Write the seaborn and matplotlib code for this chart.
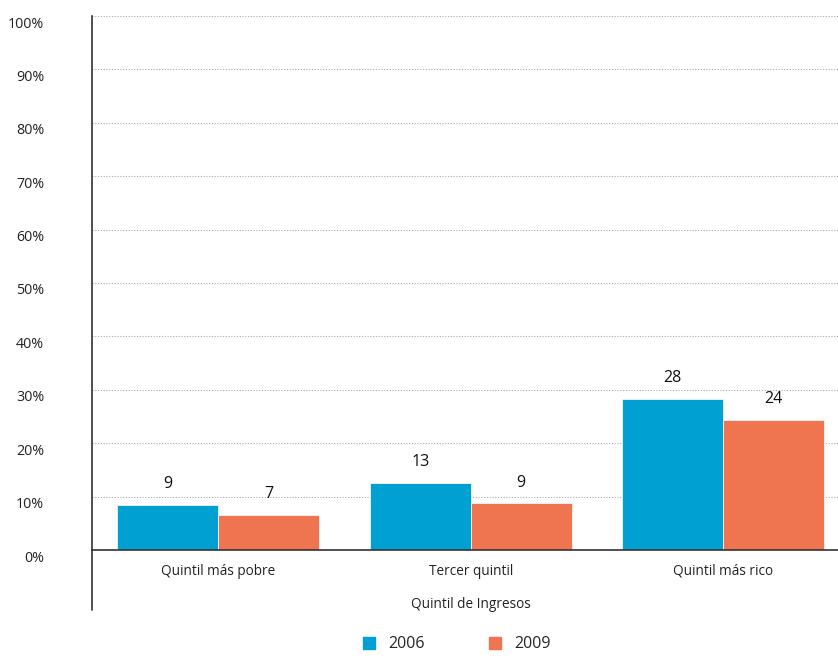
import matplotlib
matplotlib.use("Agg")
import matplotlib.pyplot as plt
import matplotlib.transforms as mtransforms
from matplotlib.lines import Line2D
import seaborn as sns
import pandas as pd

categories = ["Quintil más pobre", "Tercer quintil", "Quintil más rico"]
years = ["2006", "2009"]
values_2006 = [8.5, 12.6, 28.3]
values_2009 = [6.6, 8.8, 24.4]
labels_2006 = ["9", "13", "28"]
labels_2009 = ["7", "9", "24"]
yticks = [0, 10, 20, 30, 40, 50, 60, 70, 80, 90, 100]
ytick_labels = [f"{v}%" for v in yticks]
colors = {"2006": "#00A0D2", "2009": "#EE7550"}

sns.set_style("white")
plt.rcParams["font.family"] = ["Open Sans", "DejaVu Sans"]

df = pd.DataFrame({
    "Quintil": categories * 2,
    "Año": ["2006"] * 3 + ["2009"] * 3,
    "Valor": values_2006 + values_2009,
})

W, H = 838, 658
fig = plt.figure(figsize=(W / 100, H / 100), dpi=100)
ax = fig.add_axes([92 / W, 1 - 550 / H, 757.5 / W, (550 - 16) / H])

sns.barplot(data=df, x="Quintil", y="Valor", hue="Año", order=categories,
            hue_order=years, palette=colors, saturation=1, width=0.8,
            ax=ax, legend=False, edgecolor="#f4f4f4", linewidth=0.6)

for cont, lbls in zip(ax.containers, [labels_2006, labels_2009]):
    ax.bar_label(cont, labels=lbls, padding=9, fontsize=11.5, color="#111111")

ax.set_xlim(-0.5, 2.5)
ax.set_ylim(0, 100)
ax.set_yticks(yticks)
ax.set_yticklabels(ytick_labels)
ax.yaxis.grid(True, linestyle=(0, (1, 1.5)), color="#aaaaaa", linewidth=0.8)
ax.set_axisbelow(True)
ax.tick_params(axis="y", direction="out", length=6.5, width=1.2, color="#333333",
               pad=28, labelsize=10.3, labelcolor="#222222")
offset = mtransforms.ScaledTranslation(0, -6 / 100, fig.dpi_scale_trans)
for lab in ax.get_yticklabels():
    lab.set_transform(lab.get_transform() + offset)

ax.set_xticks([0.5, 1.5], minor=True)
ax.tick_params(axis="x", which="minor", direction="out", length=19.5, width=1.0,
               color="#333333")
ax.tick_params(axis="x", which="major", length=0, pad=10, labelsize=9.8,
               labelcolor="#222222")
ax.set_xlabel("Quintil de Ingresos", fontsize=9.8, color="#222222", labelpad=11)
ax.set_ylabel("")

for s in ["top", "right"]:
    ax.spines[s].set_visible(False)
ax.spines["left"].set_color("#333333")
ax.spines["left"].set_linewidth(1.2)
ax.spines["bottom"].set_color("#333333")
ax.spines["bottom"].set_linewidth(1.2)

ext = 60 / (550 - 16)
ax.add_line(Line2D([0, 0], [0, -ext], transform=ax.transAxes, color="#333333",
                   linewidth=1.2, clip_on=False))

handles = [plt.Rectangle((0, 0), 1, 1, color=colors[y]) for y in years]
fig.legend(handles, years, loc="lower center", bbox_to_anchor=(0.545, -0.013),
           ncol=2, frameon=False, fontsize=11.5, handlelength=0.8, handleheight=0.8,
           handletextpad=0.8, columnspacing=4.0)

fig.savefig("out.png", dpi=100)
